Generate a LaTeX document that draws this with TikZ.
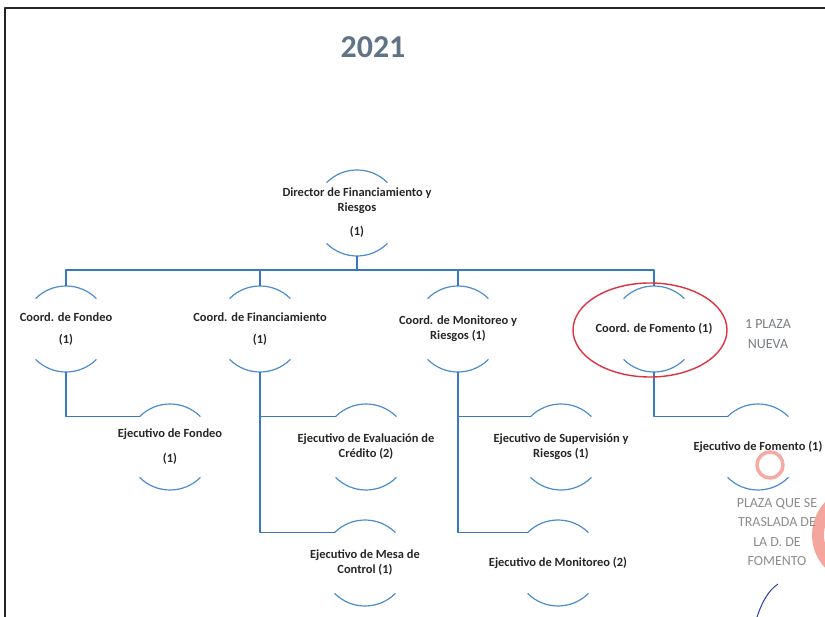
\documentclass[tikz,border=0pt]{standalone}
\usepackage{fontspec}
\setmainfont{Carlito}
\definecolor{orgblue}{RGB}{75,140,205}
\definecolor{orgline}{RGB}{55,120,190}
\definecolor{yeargray}{RGB}{95,115,135}
\definecolor{notegray}{RGB}{120,125,130}
\definecolor{ringred}{RGB}{220,50,65}
\definecolor{stamppink}{RGB}{242,150,140}
\definecolor{penblue}{RGB}{40,60,170}
\newcommand{\postarcs}[1]{%
  \draw [orgblue,line width=1.2bp] ([shift={(135:43bp)}]#1.center) arc [start angle=135,end angle=45,radius=43bp];
  \draw [orgblue,line width=1.2bp] ([shift={(225:43bp)}]#1.center) arc [start angle=225,end angle=315,radius=43bp];}
\begin{document}
\begin{tikzpicture}[>=latex,line join=bevel,
  post/.style={draw=none,align=center,font=\bfseries\fontsize{12.5}{15}\selectfont,text=black!85},
  wire/.style={orgline,line width=1.5bp},
  note/.style={align=center,font=\fontsize{14}{19.5}\selectfont}]
\useasboundingbox (0bp,0bp) rectangle (825bp,617bp);
%%
\draw [black!85,line width=2.5bp] (5bp,0bp) -- (5bp,609bp) -- (825bp,609bp);
\node (year) at (373bp,570bp) [font=\bfseries\fontsize{32}{32}\selectfont,text=yeargray] {2021};
%%
\node (dir) at (357bp,404bp) [post] {Director de Financiamiento y\\Riesgos\\[9bp](1)};
  \node (cfondeo) at (66bp,288bp) [post] {Coord. de Fondeo\\[7bp](1)};
  \node (cfinan) at (260bp,288bp) [post] {Coord. de Financiamiento\\[7bp](1)};
  \node (cmonit) at (458bp,288bp) [post] {Coord. de Monitoreo y\\Riesgos (1)};
  \node (cfomento) at (654bp,288bp) [post] {Coord. de Fomento (1)};
  \node (efondeo) at (170bp,170bp) [post] {Ejecutivo de Fondeo\\[10bp](1)};
  \node (eevalua) at (366bp,170bp) [post] {Ejecutivo de Evaluación de\\Crédito (2)};
  \node (esuperv) at (561bp,170bp) [post] {Ejecutivo de Supervisión y\\Riesgos (1)};
  \node (efomento) at (758bp,170bp) [post] {Ejecutivo de Fomento (1)};
  \node (emesa) at (365bp,54bp) [post] {Ejecutivo de Mesa de\\Control (1)};
  \node (emonit) at (558bp,54bp) [post] {Ejecutivo de Monitoreo (2)};
%%
\foreach \n in {dir,cfondeo,cfinan,cmonit,cfomento,efondeo,eevalua,esuperv,efomento,emesa,emonit}
  {\postarcs{\n}}
\foreach \c in {cfondeo,cfinan,cmonit,cfomento}
  {\draw [wire] ([yshift=-43bp]dir.center) -- ++(0,-14bp) -| ([yshift=43bp]\c.center);}
  \draw [wire] ([yshift=-43bp]cfondeo.center) |- ([shift={(135:43bp)}]efondeo.center);
  \draw [wire] ([yshift=-43bp]cfinan.center) |- ([shift={(135:43bp)}]emesa.center);
  \draw [wire] ([yshift=-43bp]cfinan.center) |- ([shift={(135:43bp)}]eevalua.center);
  \draw [wire] ([yshift=-43bp]cmonit.center) |- ([shift={(135:43bp)}]emonit.center);
  \draw [wire] ([yshift=-43bp]cmonit.center) |- ([shift={(135:43bp)}]esuperv.center);
  \draw [wire] ([yshift=-43bp]cfomento.center) |- ([shift={(135:43bp)}]efomento.center);
%%
\draw [ringred,line width=1.4bp] (650bp,287bp) ellipse [x radius=77bp,y radius=47bp];
\node (nueva) at (768bp,283bp) [note,text=notegray] {1 PLAZA\\NUEVA};
%% sello
\draw [stamppink,line width=3.5bp,opacity=.8] (770bp,152bp) circle [radius=13bp];
\draw [stamppink,line width=12bp,opacity=.85] (860bp,82bp) ++(120:42bp) arc [start angle=120,end angle=240,radius=42bp];
\draw [penblue,line width=1bp] (757bp,0bp) .. controls (762bp,15bp) and (768bp,26bp) .. (778bp,33bp);
\node (traslado) at (777bp,85bp) [note,text=black!45] {PLAZA QUE SE\\TRASLADA DE\\LA D. DE\\FOMENTO};
%
\end{tikzpicture}
\end{document}
